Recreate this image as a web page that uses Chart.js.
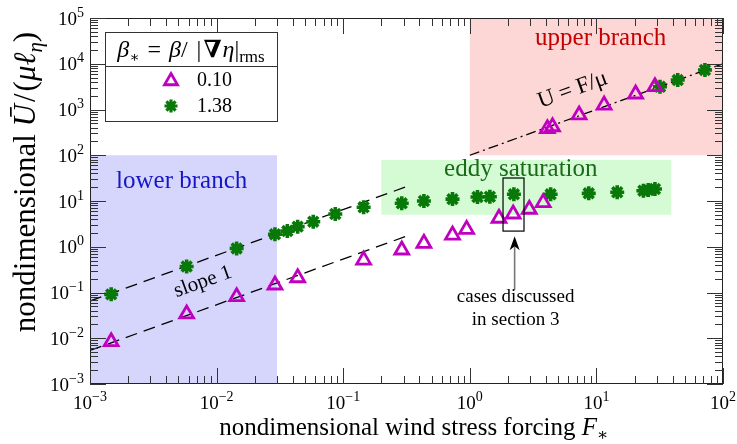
<!DOCTYPE html>
<html>
<head>
<meta charset="utf-8">
<script src="https://cdn.jsdelivr.net/npm/chart.js@4.4.1/dist/chart.umd.min.js"></script>
<style>
  html, body { margin: 0; padding: 0; background: #fff; }
</style>
</head>
<body>
<canvas id="chart" width="737" height="444"></canvas>
<script>
const SERIF = '"Liberation Serif", "DejaVu Serif", serif';

// beta* = 0.10 (magenta triangles)
const F_TRI = [0.00147, 0.0058, 0.0144, 0.0289, 0.0437, 0.145, 0.29, 0.434, 0.73, 0.944,
               1.70, 2.2, 2.95, 3.8, 4.1, 4.5, 7.3, 11.5, 20.4, 29];
const U_TRI = [0.0084, 0.034, 0.081, 0.146, 0.21, 0.51, 0.85, 1.19, 1.8, 2.4,
               4.2, 5.2, 6.6, 9.2, 380, 420, 760, 1250, 2180, 3150];

// beta* = 1.38 (green stars)
const F_STAR = [0.00147, 0.0058, 0.0144, 0.0289, 0.0362, 0.0437, 0.058, 0.0866, 0.145, 0.29,
                0.434, 0.73, 1.15, 1.44, 2.23, 4.35, 8.7, 14.6, 23.5, 25.7, 29,
                31.8, 43.9, 72];
const U_STAR = [0.091, 0.37, 0.92, 1.87, 2.2, 2.75, 3.53, 5.2, 7.3, 8.9,
                10, 11, 12.2, 12.4, 14, 14, 14.7, 15.5, 16.8, 17.4, 18.3,
                3150, 4400, 7300];

// slope-1 guides and U = F/mu
const GUIDE_STAR_F = [1e-3, 0.31];
const GUIDE_STAR_U = [0.065, 20.2];
const GUIDE_TRI_F = [1e-3, 0.31];
const GUIDE_TRI_U = [0.0054, 1.67];
const UPPER_F = [1, 100];
const UPPER_U = [100, 1e4];

// regime boxes: F range, U range
const LOWER_F = [1e-3, 0.03], LOWER_U = [1e-3, 100];
const EDDY_F = [0.2, 39], EDDY_U = [5, 79];
const UPPER_BOX_F = [1, 100], UPPER_BOX_U = [100, 1e5];

// highlighted cases box
const CASE_F = [1.83, 2.68], CASE_U = [2.2, 31.8];

const X_EXP = [-3, -2, -1, 0, 1, 2];
const Y_EXP = [-3, -2, -1, 0, 1, 2, 3, 4, 5];

const MAGENTA = '#c000c0';
const GREEN = '#087808';

function pts(xs, ys) { return xs.map((x, i) => ({ x: x, y: ys[i] })); }

function supText(n) { return n < 0 ? '\u2212' + (-n) : String(n); }

// draw a row of differently styled text pieces; {gap} pieces only add space
function drawRuns(ctx, runs, x, y, align) {
    let total = 0;
    runs.forEach(r => {
        if (r.gap) { r.w = r.gap; } else { ctx.font = r.font; r.w = ctx.measureText(r.t).width; }
        total += r.w;
    });
    let cx = align === 'center' ? x - total / 2 : align === 'right' ? x - total : x;
    ctx.textAlign = 'left';
    ctx.textBaseline = 'alphabetic';
    runs.forEach(r => {
        if (!r.gap) {
            ctx.font = r.font;
            ctx.fillStyle = r.color || '#000';
            ctx.fillText(r.t, cx, y + (r.dy || 0));
        }
        cx += r.w;
    });
}

function drawPow(ctx, e, x, y, align) {
    drawRuns(ctx, [
        { t: '10', font: '19px ' + SERIF },
        { t: supText(e), font: '14px ' + SERIF, dy: -8 }
    ], x, y, align);
}

function marker(ctx, style, x, y, r, color, lw) {
    ctx.save();
    ctx.strokeStyle = color;
    ctx.lineWidth = lw;
    ctx.beginPath();
    if (style === 'triangle') {
        for (let i = 0; i < 3; i++) {
            const a = -Math.PI / 2 + i * 2 * Math.PI / 3;
            const px = x + r * Math.cos(a), py = y + r * Math.sin(a);
            i ? ctx.lineTo(px, py) : ctx.moveTo(px, py);
        }
        ctx.closePath();
    } else {
        for (let i = 0; i < 4; i++) {
            const a = i * Math.PI / 4;
            ctx.moveTo(x - r * Math.cos(a), y - r * Math.sin(a));
            ctx.lineTo(x + r * Math.cos(a), y + r * Math.sin(a));
        }
    }
    ctx.stroke();
    ctx.restore();
}

const paper = {
    id: 'paper',
    beforeDatasetsDraw(chart) {
        const { ctx, scales: { x, y } } = chart;
        const box = (fr, ur, col) => {
            const x0 = x.getPixelForValue(fr[0]), x1 = x.getPixelForValue(fr[1]);
            const y0 = y.getPixelForValue(ur[1]), y1 = y.getPixelForValue(ur[0]);
            ctx.fillStyle = col;
            ctx.fillRect(x0, y0, x1 - x0, y1 - y0);
        };
        ctx.save();
        box(LOWER_F, LOWER_U, '#d6d6fc');
        box(EDDY_F, EDDY_U, '#d4fbd4');
        box(UPPER_BOX_F, UPPER_BOX_U, '#fdd6d6');

        ctx.font = '25px ' + SERIF;
        ctx.textAlign = 'center';
        ctx.textBaseline = 'middle';
        ctx.fillStyle = '#1616c8';
        ctx.fillText('lower branch', x.getPixelForValue(0.0053), y.getPixelForValue(27));
        ctx.fillStyle = '#c40000';
        ctx.fillText('upper branch', x.getPixelForValue(10.8), y.getPixelForValue(36000));
        ctx.fillStyle = '#1a6a1a';
        ctx.fillText('eddy saturation', x.getPixelForValue(2.53), y.getPixelForValue(50));
        ctx.restore();
    },
    afterDatasetsDraw(chart) {
        const { ctx, chartArea: a, scales: { x, y } } = chart;
        ctx.save();

        // rotated line labels
        const angle = (fx, fu) => Math.atan2(
            y.getPixelForValue(fu[1]) - y.getPixelForValue(fu[0]),
            x.getPixelForValue(fx[1]) - x.getPixelForValue(fx[0]));
        ctx.fillStyle = '#000';
        ctx.textAlign = 'center';
        ctx.textBaseline = 'middle';
        ctx.save();
        ctx.translate(x.getPixelForValue(0.0078), y.getPixelForValue(0.17));
        ctx.rotate(angle(GUIDE_TRI_F, GUIDE_TRI_U));
        ctx.font = '21px ' + SERIF;
        ctx.fillText('slope 1', 0, 0);
        ctx.restore();
        ctx.save();
        ctx.translate(x.getPixelForValue(6.5), y.getPixelForValue(2670));
        ctx.rotate(angle(UPPER_F, UPPER_U));
        ctx.font = '23px ' + SERIF;
        ctx.fillText('U = F/\u03bc', 0, 0);
        ctx.restore();

        // cases box + arrow
        const cx0 = x.getPixelForValue(CASE_F[0]), cx1 = x.getPixelForValue(CASE_F[1]);
        const cy0 = y.getPixelForValue(CASE_U[1]), cy1 = y.getPixelForValue(CASE_U[0]);
        ctx.strokeStyle = '#000';
        ctx.lineWidth = 1.2;
        ctx.strokeRect(cx0, cy0, cx1 - cx0, cy1 - cy0);
        const ax = x.getPixelForValue(2.26);
        const tip = y.getPixelForValue(1.7), tail = y.getPixelForValue(0.114);
        ctx.strokeStyle = '#777';
        ctx.lineWidth = 1.6;
        ctx.beginPath();
        ctx.moveTo(ax, tail);
        ctx.lineTo(ax, tip + 6);
        ctx.stroke();
        ctx.fillStyle = '#000';
        ctx.beginPath();
        ctx.moveTo(ax, tip);
        ctx.lineTo(ax + 5, tip + 14);
        ctx.lineTo(ax, tip + 10);
        ctx.lineTo(ax - 5, tip + 14);
        ctx.closePath();
        ctx.fill();
        ctx.font = '19px ' + SERIF;
        ctx.textAlign = 'center';
        ctx.textBaseline = 'middle';
        ctx.fillText('cases discussed', x.getPixelForValue(2.3), y.getPixelForValue(0.08));
        ctx.fillText('in section 3', x.getPixelForValue(2.3), y.getPixelForValue(0.025));

        // frame and inward ticks
        ctx.strokeStyle = '#222';
        ctx.lineWidth = 1;
        ctx.strokeRect(a.left + 0.5, a.top + 0.5, a.right - a.left - 1, a.bottom - a.top - 1);
        ctx.strokeStyle = '#333';
        ctx.beginPath();
        for (let e = X_EXP[0]; e < X_EXP[X_EXP.length - 1] + 1; e++) {
            for (let k = 1; k <= 9; k++) {
                const v = k * Math.pow(10, e);
                if (v > 100.0001) break;
                const px = Math.round(x.getPixelForValue(v)) + 0.5;
                const len = k === 1 ? 16 : 8;
                ctx.moveTo(px, a.bottom); ctx.lineTo(px, a.bottom - len);
                ctx.moveTo(px, a.top); ctx.lineTo(px, a.top + len);
            }
        }
        for (let e = Y_EXP[0]; e < Y_EXP[Y_EXP.length - 1] + 1; e++) {
            for (let k = 1; k <= 9; k++) {
                const v = k * Math.pow(10, e);
                if (v > 1e5 * 1.0001) break;
                const py = Math.round(y.getPixelForValue(v)) + 0.5;
                const len = k === 1 ? 16 : 8;
                ctx.moveTo(a.left, py); ctx.lineTo(a.left + len, py);
                ctx.moveTo(a.right, py); ctx.lineTo(a.right - len, py);
            }
        }
        ctx.stroke();

        // tick labels
        X_EXP.forEach(e => drawPow(ctx, e, x.getPixelForValue(Math.pow(10, e)), 409, 'center'));
        Y_EXP.forEach(e => drawPow(ctx, e, 84, y.getPixelForValue(Math.pow(10, e)) + 6.5, 'right'));

        // axis titles
        drawRuns(ctx, [
            { t: 'nondimensional wind stress forcing ', font: '25px ' + SERIF },
            { t: 'F', font: 'italic 25px ' + SERIF },
            { t: '\u2217', font: '17px ' + SERIF, dy: 5 }
        ], 414, 435, 'center');
        ctx.save();
        ctx.translate(35, 182);
        ctx.rotate(-Math.PI / 2);
        drawRuns(ctx, [
            { t: 'nondimensional ', font: '31px ' + SERIF },
            { t: '\u016a', font: 'italic 31px ' + SERIF },
            { gap: 2 },
            { t: '/', font: '31px ' + SERIF },
            { gap: 2 },
            { t: '(', font: '31px ' + SERIF },
            { t: '\u03bc\u2113', font: 'italic 31px ' + SERIF },
            { t: '\u03b7', font: 'italic 21px ' + SERIF, dy: 7 },
            { t: ')', font: '31px ' + SERIF }
        ], 0, 0, 'center');
        ctx.restore();

        // legend box
        const L = { l: 105, t: 32, r: 277, b: 121, sep: 66 };
        ctx.fillStyle = '#fff';
        ctx.fillRect(L.l, L.t, L.r - L.l, L.b - L.t);
        ctx.strokeStyle = '#333';
        ctx.lineWidth = 1;
        ctx.strokeRect(L.l + 0.5, L.t + 0.5, L.r - L.l, L.b - L.t);
        ctx.beginPath();
        ctx.moveTo(L.l, L.sep + 0.5); ctx.lineTo(L.r, L.sep + 0.5);
        ctx.stroke();
        drawRuns(ctx, [
            { t: '\u03b2', font: 'italic 24px ' + SERIF },
            { t: '\u2217', font: '15px ' + SERIF, dy: 5 },
            { gap: 8 },
            { t: '=', font: '24px ' + SERIF },
            { gap: 8 },
            { t: '\u03b2', font: 'italic 24px ' + SERIF },
            { t: '/', font: '24px ' + SERIF },
            { gap: 9 },
            { t: '|', font: '24px ' + SERIF },
            { gap: 2 },
            { t: '\u2207', font: 'bold 24px ' + SERIF },
            { gap: 1 },
            { t: '\u03b7', font: 'italic 24px ' + SERIF },
            { t: '|', font: '24px ' + SERIF },
            { t: 'rms', font: '17px ' + SERIF, dy: 5 }
        ], 191, 57, 'center');
        marker(ctx, 'triangle', 171, 81, 7.5, MAGENTA, 2.8);
        marker(ctx, 'star', 171, 106, 6.5, GREEN, 3.2);
        ctx.fillStyle = '#000';
        ctx.font = '20px ' + SERIF;
        ctx.textAlign = 'left';
        ctx.textBaseline = 'middle';
        ctx.fillText('0.10', 197, 81);
        ctx.fillText('1.38', 197, 107);

        ctx.restore();
    }
};

new Chart(document.getElementById('chart'), {
    type: 'scatter',
    data: {
        datasets: [
            {
                label: '0.10',
                data: pts(F_TRI, U_TRI),
                pointStyle: 'triangle',
                pointRadius: 8,
                pointBorderWidth: 2.8,
                borderColor: MAGENTA,
                backgroundColor: 'rgba(0,0,0,0)',
                order: 0
            },
            {
                label: '1.38',
                data: pts(F_STAR, U_STAR),
                pointStyle: 'star',
                pointRadius: 7,
                pointBorderWidth: 3.6,
                borderColor: GREEN,
                backgroundColor: GREEN,
                order: 0
            },
            {
                type: 'line',
                data: pts(GUIDE_STAR_F, GUIDE_STAR_U),
                borderColor: '#000',
                borderWidth: 1.3,
                borderDash: [12, 7],
                pointRadius: 0,
                order: 1
            },
            {
                type: 'line',
                data: pts(GUIDE_TRI_F, GUIDE_TRI_U),
                borderColor: '#000',
                borderWidth: 1.3,
                borderDash: [12, 7],
                pointRadius: 0,
                order: 1
            },
            {
                type: 'line',
                data: pts(UPPER_F, UPPER_U),
                borderColor: '#000',
                borderWidth: 1.3,
                borderDash: [10, 4, 2, 4],
                pointRadius: 0,
                order: 1
            }
        ]
    },
    options: {
        responsive: false,
        animation: false,
        devicePixelRatio: 1,
        layout: { padding: { left: 0, right: 14, top: 18, bottom: 0 } },
        plugins: { legend: { display: false }, tooltip: { enabled: false } },
        scales: {
            x: {
                type: 'logarithmic',
                min: 1e-3,
                max: 1e2,
                ticks: { display: false },
                grid: { display: false },
                border: { display: false },
                afterFit(s) { s.height = 60; }
            },
            y: {
                type: 'logarithmic',
                min: 1e-3,
                max: 1e5,
                ticks: { display: false },
                grid: { display: false },
                border: { display: false },
                afterFit(s) { s.width = 90; }
            }
        }
    },
    plugins: [paper]
});
</script>
</body>
</html>
